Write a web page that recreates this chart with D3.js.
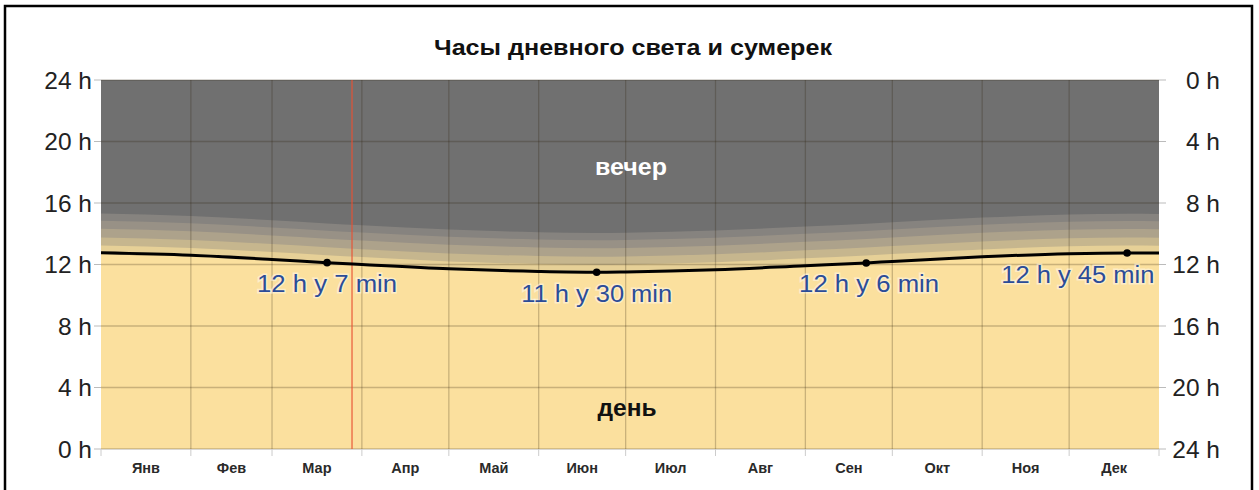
<!DOCTYPE html>
<html><head><meta charset="utf-8">
<script src="https://cdn.jsdelivr.net/npm/d3@7"></script>
<style>
html,body{margin:0;padding:0;background:#fff;}
svg{display:block;font-family:"Liberation Sans",Arial,sans-serif;}
</style></head>
<body><svg id="chart" width="1259" height="490"></svg>
<script>
// ---- data ----
const titleText = "Часы дневного света и сумерек";
const months = ["Янв","Фев","Мар","Апр","Май","Июн","Июл","Авг","Сен","Окт","Ноя","Дек"];
const monthStartDays = [0,31,59,90,120,151,181,212,243,273,304,334,365];
const leftTicks = [0,4,8,12,16,20,24];
const leftTickLabels = ["0 h","4 h","8 h","12 h","16 h","20 h","24 h"];
const rightTicks = [0,4,8,12,16,20,24];
const rightTickLabels = ["0 h","4 h","8 h","12 h","16 h","20 h","24 h"];
// day of year and day length (hours)
const sampleDays  = [0, 31, 59, 78, 90, 120, 151, 171, 181, 212, 243, 264, 273, 304, 334, 354, 365];
const dayLength   = [12.76, 12.6, 12.33, 12.12, 12.0, 11.72, 11.55, 11.5, 11.52, 11.66, 11.92, 12.1, 12.2, 12.5, 12.7, 12.75, 12.74];
// twilight bands above daylight (hours each)
const twilightHours  = [0.48, 0.52, 0.56, 0.52, 0.47];
const twilightColors = ["#e6d097", "#c6b68e", "#ada28b", "#989186", "#86837f"];
// marked days and labels
const markDays   = [78, 171, 264, 354];
const markHours  = [12.12, 11.5, 12.1, 12.75];
const markLabels = ["12 h y 7 min", "11 h y 30 min", "12 h y 6 min", "12 h y 45 min"];
const markLabelDays  = [78, 171, 265, 337];
const markLabelHours = [10.2, 9.56, 10.2, 10.8];
const markLabelWidths = [140, 151, 140, 153];
const todayDay = 86.6;

// ---- layout ----
const svg = d3.select("#chart");
const L = 101, R = 1159, T = 80, B = 449;
const x = d3.scaleLinear().domain([0,365]).range([L,R]);
const y = d3.scaleLinear().domain([0,24]).range([B,T]);
const yR = d3.scaleLinear().domain([0,24]).range([T,B]);

// frame
svg.append("rect").attr("x",5).attr("y",6).attr("width",1247).attr("height",520)
  .attr("fill","none").attr("stroke","#000").attr("stroke-width",2.5);

// title
svg.append("text").attr("x",633).attr("y",55).attr("text-anchor","middle")
  .attr("font-size",22).attr("font-weight","bold").attr("fill","#111")
  .attr("textLength",398).attr("lengthAdjust","spacingAndGlyphs").text(titleText);

const pts = sampleDays.map((d,i)=>({d, h: dayLength[i]}));
const g = svg.append("g");
// night background
g.append("rect").attr("x",L).attr("y",T).attr("width",R-L).attr("height",B-T).attr("fill","#707070");
// twilight bands (outermost first)
const cum = [];
twilightHours.reduce((a,v,i)=>{cum[i]=a+v;return a+v;},0);
for (let i = twilightHours.length-1; i >= 0; i--) {
  const area = d3.area().x(p=>x(p.d)).y0(B).y1(p=>y(p.h+cum[i])).curve(d3.curveMonotoneX);
  g.append("path").datum(pts).attr("d",area).attr("fill",twilightColors[i]);
}
// day
const dayArea = d3.area().x(p=>x(p.d)).y0(B).y1(p=>y(p.h)).curve(d3.curveMonotoneX);
g.append("path").datum(pts).attr("d",dayArea).attr("fill","#fbe09e");

// grid
const gridColor = "rgba(40,30,10,0.24)";
leftTicks.forEach(t=>{
  g.append("line").attr("x1",L).attr("x2",R).attr("y1",y(t)).attr("y2",y(t))
   .attr("stroke",gridColor).attr("stroke-width",1.3);
});
monthStartDays.slice(1,-1).forEach(d=>{
  g.append("line").attr("x1",x(d)).attr("x2",x(d)).attr("y1",T).attr("y2",B)
   .attr("stroke",gridColor).attr("stroke-width",1.3);
});
// ticks outside (lighter)
leftTicks.forEach(t=>{
  g.append("line").attr("x1",L-7).attr("x2",L).attr("y1",y(t)).attr("y2",y(t)).attr("stroke","#bbb");
  g.append("line").attr("x1",R).attr("x2",R+7).attr("y1",y(t)).attr("y2",y(t)).attr("stroke","#bbb");
});
monthStartDays.forEach(d=>{
  g.append("line").attr("x1",x(d)).attr("x2",x(d)).attr("y1",B).attr("y2",B+7).attr("stroke","#ccc");
});

// today line
g.append("line").attr("x1",x(todayDay)).attr("x2",x(todayDay)).attr("y1",T).attr("y2",B)
  .attr("stroke","rgba(232,80,50,0.75)").attr("stroke-width",1.5);

// day-length curve
const line = d3.line().x(p=>x(p.d)).y(p=>y(p.h)).curve(d3.curveMonotoneX);
g.append("path").datum(pts).attr("d",line).attr("fill","none").attr("stroke","#000").attr("stroke-width",3);
markDays.forEach((d,i)=>{
  g.append("circle").attr("cx",x(d)).attr("cy",y(markHours[i])).attr("r",3.8).attr("fill","#000");
});

// annotation labels
markLabels.forEach((t,i)=>{
  g.append("text").attr("x",x(markLabelDays[i])).attr("y",y(markLabelHours[i]))
   .attr("text-anchor","middle").attr("font-size",23).attr("fill","#2b4c98")
   .attr("textLength",markLabelWidths[i]).attr("lengthAdjust","spacingAndGlyphs")
   .attr("stroke","rgba(255,255,255,0.45)").attr("stroke-width",3).attr("paint-order","stroke")
   .text(t);
});

// area labels
g.append("text").attr("x",631).attr("y",175).attr("text-anchor","middle")
  .attr("font-size",24).attr("font-weight","bold").attr("fill","#fff")
  .attr("textLength",72).attr("lengthAdjust","spacingAndGlyphs").text("вечер");
g.append("text").attr("x",627).attr("y",416).attr("text-anchor","middle")
  .attr("font-size",24).attr("font-weight","bold").attr("fill","#111")
  .attr("textLength",59).attr("lengthAdjust","spacingAndGlyphs").text("день");

// axes labels
leftTicks.forEach((t,i)=>{
  svg.append("text").attr("x",92).attr("y",y(t)).attr("dy","0.36em").attr("text-anchor","end")
   .attr("font-size",24.5).attr("fill","#222").text(leftTickLabels[i]);
});
rightTicks.forEach((t,i)=>{
  svg.append("text").attr("x",1220).attr("y",yR(t)).attr("dy","0.36em").attr("text-anchor","end")
   .attr("font-size",24.5).attr("fill","#222").text(rightTickLabels[i]);
});
months.forEach((m,i)=>{
  const mid = (monthStartDays[i]+monthStartDays[i+1])/2;
  svg.append("text").attr("x",x(mid)).attr("y",473).attr("text-anchor","middle")
   .attr("font-size",14.5).attr("font-weight","bold").attr("fill","#2a2a2a").text(m);
});
</script></body></html>
